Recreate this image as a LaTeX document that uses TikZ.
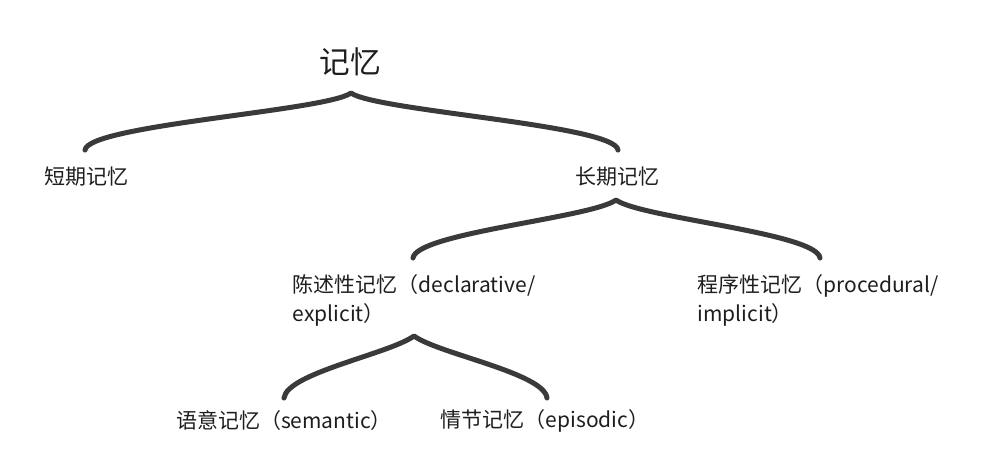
\documentclass[tikz,border=0pt]{standalone}
\usepackage{fontspec}
\newfontfamily\cjk{Noto Sans CJK SC}
\usepackage{tikz}
\usetikzlibrary{calc}
\usepackage{xcolor}
\definecolor{bracegray}{RGB}{58,58,58}
\definecolor{textgray}{RGB}{30,30,30}
\tikzset{
  item/.style={inner sep=0pt, align=left, text=textgray,
               font=\cjk\fontsize{15.75}{21.75}\selectfont},
  title/.style={item, font=\cjk\fontsize{23}{27}\selectfont},
  brace/.style={line width=3.75pt, bracegray, line cap=round, line join=round},
}

\begin{document}
\begin{tikzpicture}[x=0.75pt,y=-0.75pt]
\fill[white] (0,0) rectangle (984,475);
\useasboundingbox (0,0) rectangle (984,475);

\node[title] (mem) at (350,62) {记忆};
\node[item] (st) at (86,177) {短期记忆};
\node[item] (lt) at (617,177) {长期记忆};
\node[item] (decl) at (414,300) {陈述性记忆（declarative/\\explicit）};
\node[item] (proc) at (818,300) {程序性记忆（procedural/\\implicit）};
\node[item] (sem) at (284,421) {语意记忆（semantic）};
\node[item] (epi) at (545,421) {情节记忆（episodic）};

% tips and ends of the braces
\coordinate (t1) at ($(mem)+(1,31)$);
\coordinate (l1) at ($(st)+(-1,-27)$);
\coordinate (r1) at ($(lt)+(1,-27)$);
\coordinate (t2) at ($(lt)+(-1,23)$);
\coordinate (l2) at ($(decl)+(-1,-42)$);
\coordinate (r2) at ($(proc)+(2,-42)$);
\coordinate (t3) at ($(decl)+(0,36)$);
\coordinate (l3) at ($(sem)+(0,-23)$);
\coordinate (r3) at ($(epi)+(2,-23)$);

\foreach \l/\t/\r in {l1/t1/r1, l2/t2/r2, l3/t3/r3}
  \draw[brace] (\l) .. controls +(3,-25) and +(-25,18) .. (\t)
                    .. controls +(25,18) and +(-3,-25) .. (\r);
\end{tikzpicture}
\end{document}
